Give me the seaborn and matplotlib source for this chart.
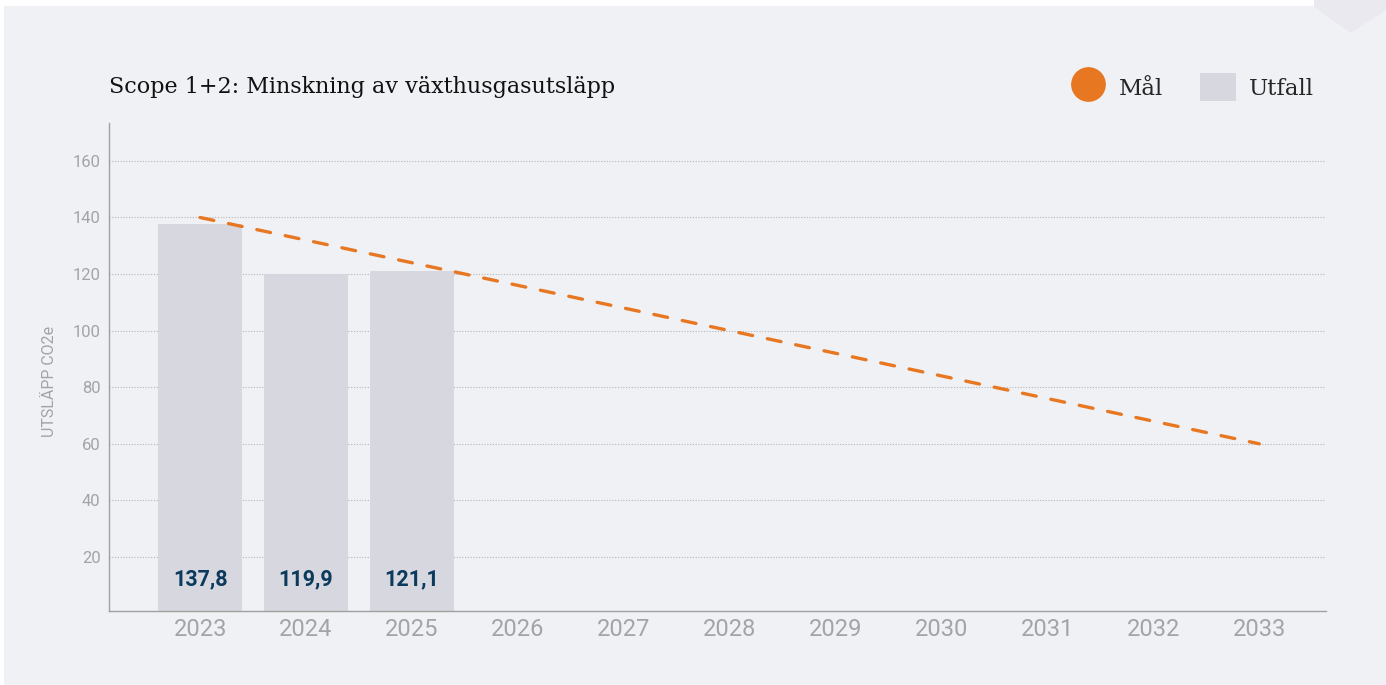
import numpy as np
import pandas as pd
import matplotlib.pyplot as plt
import seaborn as sns
from matplotlib.lines import Line2D
from matplotlib.patches import Patch, Rectangle, Polygon

# --- data ---
years = [2023, 2024, 2025, 2026, 2027, 2028, 2029, 2030, 2031, 2032, 2033]
utfall_years = [2023, 2024, 2025]
utfall = [137.8, 119.9, 121.1]
mal = [140, 132, 124, 116, 108, 100, 92, 84, 76, 68, 60]

BG = '#f0f1f5'
BAR = '#d7d7e0'
ORANGE = '#e87722'
NAVY = '#0b3a5c'
GREY = '#a3a3a8'

sns.set_style('white')
plt.rcParams['font.family'] = ['Roboto', 'DejaVu Sans']

W, H = 1386, 685
fig = plt.figure(figsize=(W / 100, H / 100), dpi=100, facecolor='white')
# panel background + corner chevron
fig.patches.append(Rectangle((4 / W, 0), 1, (H - 6) / H, transform=fig.transFigure,
                             fc=BG, ec='none', zorder=-10))
pts = [(1314, 0), (1386, 0), (1386, 10), (1351, 33), (1314, 7)]
fig.patches.append(Polygon([(x / W, 1 - y / H) for x, y in pts], closed=True,
                           transform=fig.transFigure, fc='#e9e9ef', ec='none', zorder=-9))

ax = fig.add_axes([109 / W, (H - 611) / H, (1326 - 109) / W, (611 - 123) / H])
ax.set_facecolor(BG)

df_bar = pd.DataFrame({'year': utfall_years, 'value': utfall})
df_mal = pd.DataFrame({'year': years, 'value': mal})

sns.barplot(data=df_bar, x='year', y='value', native_scale=True, width=0.79,
            color=BAR, saturation=1, linewidth=0, edgecolor='none', ax=ax, zorder=2)
sns.lineplot(data=df_mal, x='year', y='value', color=ORANGE, lw=2.4,
             dashes=False, ax=ax, zorder=3)
ln = ax.lines[-1]
ln.set_dashes((4.2, 4.5))
ln.set_dash_capstyle('round')

for yr, v in zip(utfall_years, utfall):
    ax.text(yr, 12, f'{v:.1f}'.replace('.', ','), ha='center', va='center',
            fontsize=15.5, weight='bold', color=NAVY, zorder=4)

ax.set_xlim(years[0] - 0.86, years[-1] + 0.63)
ax.set_ylim(0.9, 173.4)
ax.set_xticks(years)
ax.set_xticklabels([str(y) for y in years])
ax.set_yticks(np.arange(20, 161, 20))
ax.tick_params(axis='x', length=0, labelsize=17, colors=GREY, pad=5)
ax.tick_params(axis='y', length=0, labelsize=12, colors=GREY, pad=6)
ax.yaxis.grid(True, linestyle=(0, (1, 1.5)), color='#b5b5b8', lw=0.8, zorder=0)
ax.set_axisbelow(True)
ax.set_xlabel('')
ax.set_ylabel('UTSLÄPP CO2e', fontsize=11.5, color=GREY)
ax.yaxis.set_label_coords((57 - 109) / 1217, (611 - 381) / 488)
for s in ['top', 'right']:
    ax.spines[s].set_visible(False)
for s in ['left', 'bottom']:
    ax.spines[s].set_color('#a0a0a0')
    ax.spines[s].set_linewidth(1)

fig.text(109 / W, 1 - 87 / H, 'Scope 1+2: Minskning av växthusgasutsläpp',
         fontsize=16, family=['DejaVu Serif'], color='#111111', va='center', ha='left')

handles = [Line2D([], [], marker='o', ls='none', markersize=24, color=ORANGE, label='Mål'),
           Patch(facecolor=BAR, edgecolor='none', label='Utfall')]
leg = fig.legend(handles=handles, loc='center right', bbox_to_anchor=(1335 / W, 1 - 87 / H),
                 ncol=2, frameon=False, handlelength=1.55, handleheight=1.55,
                 columnspacing=1.6, handletextpad=0.6,
                 prop={'family': 'DejaVu Serif', 'size': 16.5})

fig.savefig('out.png', dpi=100, facecolor='white')
